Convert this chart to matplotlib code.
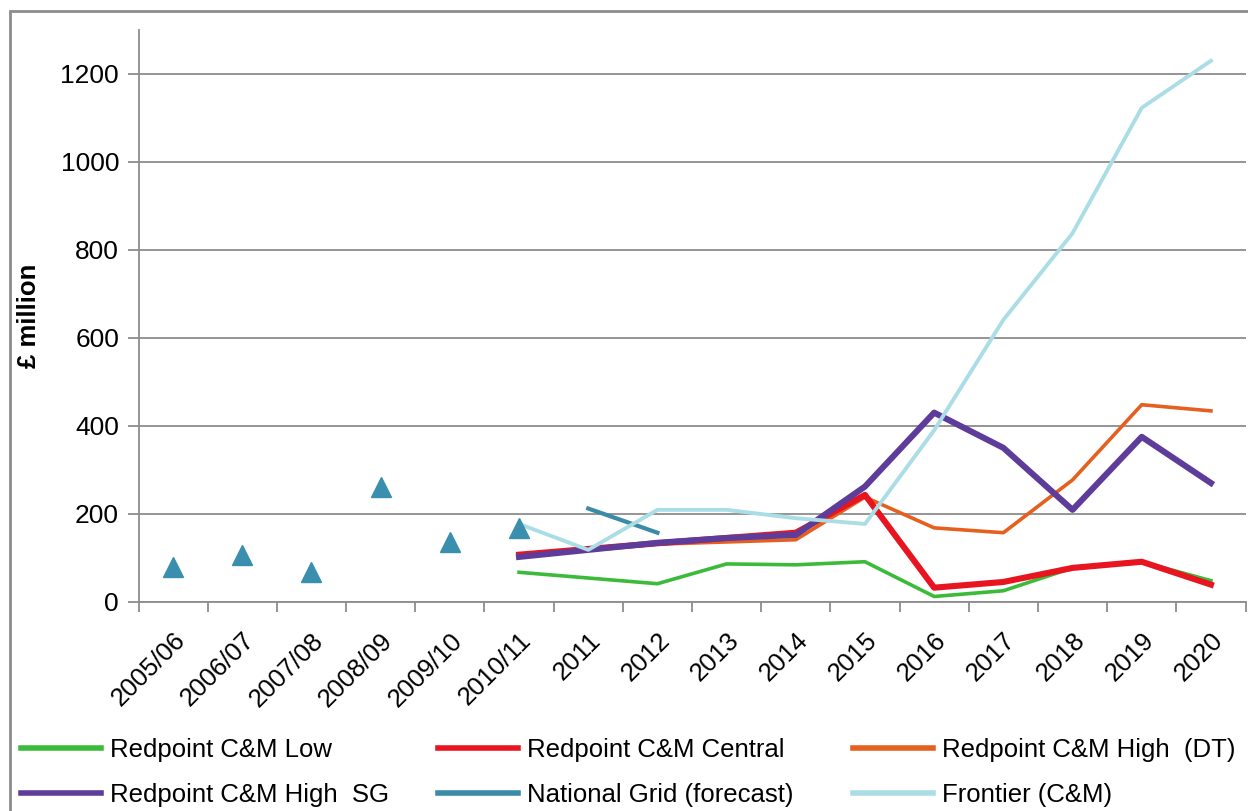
import numpy as np
import matplotlib
matplotlib.use('Agg')
import matplotlib.pyplot as plt
from matplotlib.patches import Rectangle

plt.rcParams['font.family'] = ['Liberation Sans', 'DejaVu Sans']

nan = np.nan
categories = ['2005/06', '2006/07', '2007/08', '2008/09', '2009/10', '2010/11',
              '2011', '2012', '2013', '2014', '2015', '2016', '2017', '2018', '2019', '2020']

# national grid actuals (triangles, no legend entry)
ng_actual = [80, 107, 68, 261, 136, 168] + [nan] * 10
ng_forecast = [nan] * 6 + [212, 157] + [nan] * 8

low = [nan] * 5 + [67, 54, 41, 86, 84, 91, 12, 25, 77, 91, 48]
central = [nan] * 5 + [107, 120, 133, 145, 157, 243, 32, 45, 77, 91, 39]
high_dt = [nan] * 5 + [104, 118, 131, 136, 141, 238, 168, 157, 277, 448, 434]
high_sg = [nan] * 5 + [102, 118, 134, 145, 152, 262, 430, 350, 209, 375, 270]
frontier = [nan] * 5 + [177, 118, 209, 209, 190, 177, 390, 641, 838, 1123, 1230]

x = np.arange(len(categories))
fs = 18.5

fig = plt.figure(figsize=(12.48, 8.11), dpi=100)
ax = fig.add_axes([0.111, 0.258, 0.887, 0.705])

l_low, = ax.plot(x, low, color='#3cbb3a', lw=2.6, label='Redpoint C&M Low', zorder=3)
l_dt, = ax.plot(x, high_dt, color='#e5601e', lw=2.6, label='Redpoint C&M High  (DT)', zorder=3)
l_cen, = ax.plot(x, central, color='#e8141f', lw=4.4, label='Redpoint C&M Central', zorder=4)
l_sg, = ax.plot(x, high_sg, color='#5e3c99', lw=4.4, label='Redpoint C&M High  SG', zorder=5)
l_ng, = ax.plot(x, ng_forecast, color='#3a8aa8', lw=3.0, label='National Grid (forecast)', zorder=6)
l_fr, = ax.plot(x, frontier, color='#aadde6', lw=2.8, label='Frontier (C&M)', zorder=6)
ax.plot(x, ng_actual, ls='none', marker='^', ms=14, color='#3a8fae', zorder=7)

ax.set_xlim(-0.5, len(categories) - 0.5)
ax.set_ylim(0, 1300)
ax.set_yticks(range(0, 1201, 200))
ax.yaxis.grid(True, color='#8c8c8c', lw=1.3)
ax.set_axisbelow(True)

ax.set_xticks(x)
ax.set_xticklabels(categories, rotation=45, ha='right', va='top', rotation_mode='anchor')
ax.set_xticks(np.arange(-0.5, len(categories), 1), minor=True)
ax.tick_params(axis='x', which='major', length=0, pad=19, labelsize=fs)
ax.tick_params(axis='x', which='minor', length=7, width=1.3, color='#8c8c8c')
ax.tick_params(axis='y', length=8, width=1.3, color='#8c8c8c', labelsize=19, pad=6)

for s in ['top', 'right']:
    ax.spines[s].set_visible(False)
for s in ['left', 'bottom']:
    ax.spines[s].set_color('#8c8c8c')
    ax.spines[s].set_linewidth(1.3)

ax.set_ylabel('£ million', fontsize=fs, fontweight='bold', labelpad=14)

# one legend per column so the columns sit where they do in the original
cols = [(l_low, l_sg), (l_cen, l_ng), (l_dt, l_fr)]
col_x = [21, 438, 853]
for (h1, h2), cx in zip(cols, col_x):
    leg = fig.legend([h1, h2], [h1.get_label(), h2.get_label()],
                     loc='upper left', bbox_to_anchor=(cx / 1248, 1 - 738 / 811),
                     frameon=False, fontsize=fs, handlelength=3.1,
                     handletextpad=0.35, labelspacing=0.8, borderaxespad=0,
                     borderpad=0)
    for ln in leg.get_lines():
        ln.set_linewidth(4)

fig.patches.append(Rectangle((10 / 1248, -0.05), 1.2, 1 - 11 / 811 + 0.05,
                             transform=fig.transFigure, fill=False,
                             edgecolor='#8c8c8c', lw=2))

fig.savefig('out.png', dpi=100)
